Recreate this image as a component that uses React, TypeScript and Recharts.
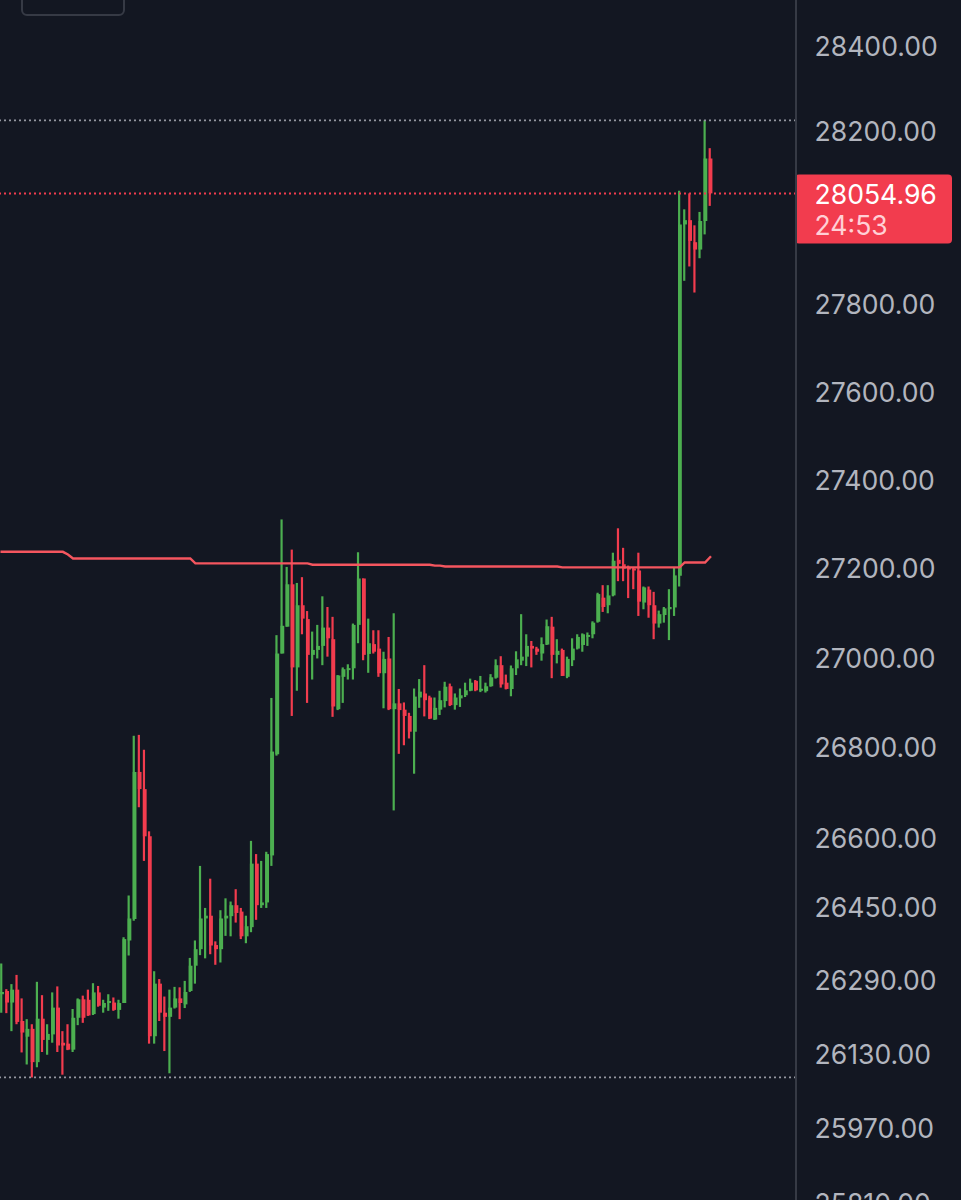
import { Bar, Cell, ComposedChart, Line, ReferenceLine, XAxis, YAxis } from "recharts";

const opens = [
  26258, 26265, 26240, 26268, 26200, 26166, 26183, 26111, 26205, 26159,
  26171, 26229, 26153, 26151, 26138, 26207, 26247, 26246, 26215, 26262,
  26229, 26239, 26240, 26224, 26239, 26375, 26422, 26745, 26707, 26603,
  26167, 26281, 26218, 26209, 26229, 26249, 26236, 26265, 26320, 26356,
  26423, 26429, 26365, 26356, 26423, 26428, 26452, 26438, 26384, 26404,
  26543, 26452, 26458, 26561, 26784, 27008, 27068, 27163, 26977, 27116,
  27085, 27005, 27016, 27025, 27066, 27040, 26884, 26956, 26971, 26975,
  27072, 27176, 27007, 27029, 27019, 26964, 26997, 26884, 26897, 26883,
  26869, 26834, 26910, 26919, 26910, 26861, 26883, 26902, 26935, 26893,
  26908, 26915, 26925, 26947, 26925, 26924, 26935, 26954, 26982, 26943,
  26929, 26975, 26992, 27001, 27025, 27019, 27008, 27028, 27068, 27005,
  27016, 26956, 26993, 27019, 27027, 27045, 27051, 27079, 27133, 27116,
  27138, 27218, 27208, 27202, 27198, 27194, 27122, 27151, 27116, 27075,
  27094, 27107, 27111, 27182, 27983, 27993, 27942, 27925, 27991, 28136,
];
const highs = [
  26325, 26269, 26280, 26300, 26249, 26204, 26193, 26285, 26256, 26193,
  26262, 26275, 26178, 26193, 26226, 26249, 26255, 26268, 26282, 26276,
  26246, 26258, 26251, 26246, 26382, 26473, 26825, 26827, 26794, 26614,
  26308, 26291, 26253, 26268, 26274, 26273, 26287, 26337, 26375, 26538,
  26446, 26510, 26373, 26441, 26467, 26460, 26487, 26446, 26429, 26593,
  26564, 26549, 26569, 26909, 27049, 27309, 27202, 27241, 27166, 27179,
  27103, 27057, 27072, 27136, 27112, 27090, 26960, 26977, 26984, 27075,
  27235, 27176, 27086, 27060, 27060, 27012, 27045, 27098, 26929, 26899,
  26876, 26930, 26951, 26982, 26914, 26910, 26925, 26945, 26941, 26919,
  26930, 26943, 26952, 26949, 26958, 26943, 26962, 26995, 27002, 26961,
  26981, 27013, 27096, 27051, 27036, 27023, 27044, 27084, 27090, 27040,
  27019, 27001, 27042, 27051, 27053, 27055, 27080, 27144, 27161, 27161,
  27234, 27289, 27245, 27205, 27200, 27234, 27158, 27158, 27146, 27104,
  27112, 27152, 27200, 28061, 28018, 28055, 27981, 28012, 28225, 28160,
];
const lows = [
  26218, 26217, 26178, 26193, 26132, 26106, 26078, 26100, 26133, 26127,
  26153, 26133, 26084, 26137, 26133, 26191, 26196, 26211, 26213, 26231,
  26218, 26222, 26222, 26205, 26239, 26342, 26418, 26667, 26549, 26151,
  26151, 26200, 26135, 26087, 26227, 26204, 26228, 26263, 26281, 26343,
  26336, 26345, 26322, 26327, 26385, 26384, 26414, 26378, 26369, 26393,
  26420, 26446, 26446, 26538, 26781, 27008, 27068, 26869, 26925, 27051,
  26898, 26950, 26997, 26982, 27001, 26867, 26882, 26898, 26950, 26950,
  27031, 26993, 26965, 27008, 26956, 26886, 26882, 26660, 26785, 26804,
  26819, 26741, 26887, 26868, 26862, 26860, 26871, 26888, 26891, 26883,
  26889, 26911, 26924, 26924, 26922, 26921, 26934, 26952, 26932, 26928,
  26913, 26960, 26982, 26980, 26977, 27005, 26992, 27027, 26953, 26986,
  26958, 26953, 26980, 27017, 27012, 27025, 27042, 27077, 27101, 27098,
  27136, 27170, 27170, 27132, 27152, 27092, 27107, 27088, 27040, 27066,
  27077, 27038, 27092, 27158, 27853, 27886, 27826, 27905, 27960, 28026,
];
const closes = [
  26263, 26240, 26268, 26198, 26175, 26183, 26111, 26205, 26159, 26172,
  26229, 26147, 26147, 26138, 26207, 26247, 26207, 26212, 26262, 26233,
  26239, 26240, 26224, 26239, 26378, 26423, 26745, 26707, 26603, 26167,
  26281, 26218, 26209, 26229, 26249, 26239, 26263, 26320, 26356, 26423,
  26429, 26364, 26356, 26423, 26429, 26452, 26435, 26384, 26406, 26543,
  26452, 26458, 26564, 26790, 27008, 27070, 27163, 26977, 27116, 27086,
  27005, 27016, 27025, 27066, 27042, 26890, 26959, 26973, 26974, 27072,
  27176, 27005, 27031, 27012, 26964, 26996, 26884, 26897, 26882, 26869,
  26834, 26912, 26923, 26904, 26863, 26887, 26904, 26934, 26893, 26910,
  26915, 26926, 26943, 26926, 26928, 26935, 26955, 26982, 26939, 26929,
  26975, 26995, 27001, 27025, 27019, 27012, 27029, 27069, 27005, 27014,
  26958, 26996, 27019, 27045, 27051, 27049, 27077, 27141, 27112, 27138,
  27216, 27209, 27198, 27196, 27194, 27124, 27156, 27116, 27075, 27096,
  27109, 27112, 27183, 27983, 27993, 27945, 27925, 27991, 28136, 28054.96,
];
const maLine = [
  27236, 27236, 27236, 27236, 27236, 27236, 27236, 27236, 27236, 27236,
  27236, 27236, 27236, 27230, 27221, 27221, 27221, 27221, 27221, 27221,
  27221, 27221, 27221, 27221, 27221, 27221, 27221, 27221, 27221, 27221,
  27221, 27221, 27221, 27221, 27221, 27221, 27221, 27221, 27210, 27210,
  27210, 27210, 27210, 27210, 27210, 27210, 27210, 27210, 27210, 27210,
  27210, 27210, 27210, 27210, 27210, 27210, 27210, 27210, 27210, 27210,
  27210, 27207, 27207, 27207, 27207, 27207, 27207, 27207, 27207, 27207,
  27207, 27207, 27207, 27207, 27207, 27207, 27207, 27207, 27207, 27207,
  27207, 27207, 27207, 27207, 27207, 27205, 27205, 27203, 27203, 27203,
  27203, 27203, 27203, 27203, 27203, 27203, 27203, 27203, 27203, 27203,
  27203, 27203, 27203, 27203, 27203, 27203, 27203, 27203, 27203, 27203,
  27201, 27201, 27201, 27201, 27201, 27201, 27201, 27201, 27201, 27201,
  27201, 27201, 27201, 27201, 27201, 27201, 27201, 27201, 27201, 27201,
  27201, 27201, 27201, 27201, 27212, 27212, 27212, 27212, 27212, 27224,
];
const priceTicks = [
  28400, 28200, 27800, 27600, 27400, 27200, 27000, 26800, 26600, 26450, 26290, 26130, 25970, 25810,
];
const periodHigh = 28225;
const periodLow = 26078;
const lastPrice = 28054.96;
const countdown = "24:53";

const UP = "#4caf50";
const DOWN = "#f23c4e";
const BG = "#131722";
const FONT = "Inter, sans-serif";

const rows = opens.map((o, i) => ({
  i,
  wick: [lows[i], highs[i]],
  body: [Math.min(o, closes[i]), Math.max(o, closes[i])],
  up: closes[i] >= o,
  ma: maLine[i],
}));

function PriceTag({ viewBox }: any) {
  const x = viewBox.x + viewBox.width;
  const y = viewBox.y;
  return (
    <g fontFamily={FONT} fontSize={26.6}>
      <rect x={x - 1} y={y - 19} width={157} height={69} rx={4} fill={DOWN} />
      <text x={x + 18.5} y={y + 11} fill="#ffffff">
        {lastPrice.toFixed(2)}
      </text>
      <text x={x + 18.5} y={y + 42} fill="#ffd0d5">
        {countdown}
      </text>
    </g>
  );
}

export default function App() {
  return (
    <div style={{ position: "absolute", left: 0, top: 0, width: 961, height: 1200, overflow: "hidden", background: BG }}>
      <ComposedChart width={961} height={1240} data={rows} margin={{ top: 0, right: 0, left: 0, bottom: 0 }}>
        <XAxis xAxisId="wick" dataKey="i" type="number" domain={[-0.33, 155.84]} allowDataOverflow hide />
        <XAxis xAxisId="body" dataKey="i" type="number" domain={[-0.33, 155.84]} allowDataOverflow hide />
        <YAxis
          orientation="right"
          width={165}
          scale="log"
          domain={[25730, 28507]}
          allowDataOverflow
          ticks={priceTicks}
          interval={0}
          tickSize={0}
          tickMargin={18.5}
          tickFormatter={(v) => v.toFixed(2)}
          tick={{ fill: "#b2b5be", fontSize: 26.6, fontFamily: FONT, dy: 1 }}
          axisLine={{ stroke: "#363a45", strokeWidth: 2 }}
        />
        <ReferenceLine xAxisId="body" y={periodHigh} stroke="#9598a1" strokeWidth={1.8} strokeDasharray="2 3" />
        <ReferenceLine xAxisId="body" y={periodLow} stroke="#9598a1" strokeWidth={1.8} strokeDasharray="2 3" />
        <Bar xAxisId="wick" dataKey="wick" barSize={2.2} isAnimationActive={false}>
          {rows.map((r) => (
            <Cell key={r.i} fill={r.up ? UP : DOWN} />
          ))}
        </Bar>
        <Bar xAxisId="body" dataKey="body" barSize={3.8} minPointSize={2} isAnimationActive={false}>
          {rows.map((r) => (
            <Cell key={r.i} fill={r.up ? UP : DOWN} />
          ))}
        </Bar>
        <Line
          xAxisId="body"
          dataKey="ma"
          type="linear"
          stroke="#f5565f"
          strokeWidth={2.4}
          strokeLinecap="square"
          dot={false}
          activeDot={false}
          isAnimationActive={false}
        />
        <ReferenceLine
          xAxisId="body"
          y={lastPrice}
          stroke={DOWN}
          strokeWidth={2}
          strokeDasharray="2 3"
          label={<PriceTag />}
        />
      </ComposedChart>
      <div
        style={{
          position: "absolute",
          left: 21,
          top: -20,
          width: 100,
          height: 32,
          border: "2px solid #363a45",
          borderRadius: 6,
        }}
      />
    </div>
  );
}
